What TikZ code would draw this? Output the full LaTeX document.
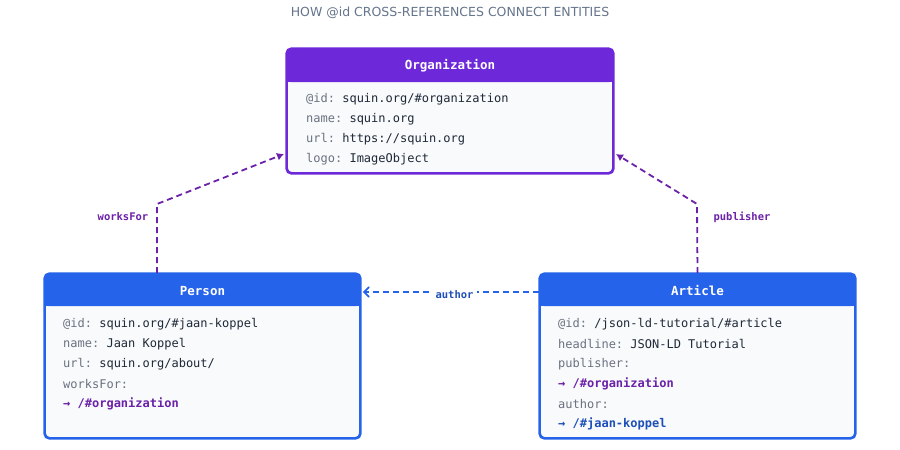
\documentclass[tikz,border=0pt]{standalone}
\usepackage{fontspec}
\setmainfont{DejaVu Sans}
\setmonofont{DejaVu Sans Mono}
\usetikzlibrary{arrows.meta,positioning}
\definecolor{orgpurple}{HTML}{6D28D9}
\definecolor{refpurple}{HTML}{6B21A8}
\definecolor{entblue}{HTML}{2563EB}
\definecolor{refblue}{HTML}{1E4FB8}
\definecolor{bodyfill}{HTML}{F8FAFC}
\definecolor{keygray}{HTML}{6B7280}
\definecolor{valdark}{HTML}{1F2937}
\definecolor{titlegray}{HTML}{64748B}
\tikzset{
    every node/.style={inner sep=0pt},
    entity/.style={draw=#1, line width=1.6pt, fill=bodyfill, rounded corners=5pt,
        minimum width=315pt, minimum height=164pt},
    row/.style={anchor=west, font=\ttfamily\fontsize{12}{14}\selectfont, text=valdark},
    head/.style={text=white, font=\ttfamily\bfseries\fontsize{12.5}{14}\selectfont},
    link/.style={draw=#1, line width=1.8pt, dash pattern=on 6pt off 4pt},
    linklabel/.style={fill=white, inner sep=4pt, font=\ttfamily\bfseries\fontsize{10.5}{12}\selectfont}
}
\newcommand{\key}[1]{\textcolor{keygray}{#1}}
\newcommand{\hdr}[3]{% node, colour, height
    \fill[#2, rounded corners=5pt] (#1.north west) rectangle ([yshift=-#3]#1.north east);
    \fill[#2] ([yshift=-12pt]#1.north west) rectangle ([yshift=-#3]#1.north east);
    \draw[#2, line width=1.6pt, rounded corners=5pt] (#1.north west) rectangle (#1.south east);
}
\begin{document}
\begin{tikzpicture}[x=1pt,y=-1pt]
    \useasboundingbox (0,0) rectangle (900,450);
    % title
    \node[text=titlegray, font=\fontsize{12.5}{14}\selectfont] (title) at (450,13)
        {HOW @id CROSS-REFERENCES CONNECT ENTITIES};

    % entity boxes
    \node[entity=orgpurple, minimum width=326pt, minimum height=124pt] (org) at (450,111) {};
    \node[entity=entblue] (person) at (202.5,356) {};
    \node[entity=entblue] (article) at (697.5,356) {};
    \hdr{org}{orgpurple}{34pt}
    \hdr{person}{entblue}{33pt}
    \hdr{article}{entblue}{33pt}
    \node[head] at (450,66) {Organization};
    \node[head] at (202.5,291) {Person};
    \node[head] at (697.5,291) {Article};

    % rows
    \node[row] at (306,99)  {\key{@id:} squin.org/\#organization};
    \node[row] at (306,119) {\key{name:} squin.org};
    \node[row] at (306,139) {\key{url:} https://squin.org};
    \node[row] at (306,159) {\key{logo:} ImageObject};

    \node[row] at (63,324) {\key{@id:} squin.org/\#jaan-koppel};
    \node[row] at (63,344) {\key{name:} Jaan Koppel};
    \node[row] at (63,364) {\key{url:} squin.org/about/};
    \node[row] at (63,384) {\key{worksFor:}};
    \node[row, text=refpurple] at (63,404) {\bfseries → /\#organization};

    \node[row] at (558,324) {\key{@id:} /json-ld-tutorial/\#article};
    \node[row] at (558,344) {\key{headline:} JSON-LD Tutorial};
    \node[row] at (558,364) {\key{publisher:}};
    \node[row, text=refpurple] at (558,384) {\bfseries → /\#organization};
    \node[row] at (558,404) {\key{author:}};
    \node[row, text=refblue] at (558,424) {\bfseries → /\#jaan-koppel};

    % references
    \coordinate (wfbend) at (157,204);
    \coordinate (pubbend) at (697,204);
    \draw[link=refpurple, -{Latex[length=7pt,width=8pt]}]
        ([xshift=-45.5pt]person.north) -- (wfbend) -- (284,154);
    \node[linklabel, text=refpurple] (worksfor) at (123,217) {worksFor};
    \draw[link=refpurple, -{Latex[length=7pt,width=8pt]}]
        (article.north) -- (pubbend) -- (616,154);
    \node[linklabel, text=refpurple] (publisher) at (742,217) {publisher};
    \draw[link=entblue, -{Straight Barb[length=5pt,width=10pt]}]
        ([yshift=64pt]article.west) -- ([yshift=64pt,xshift=2pt]person.east)
        node[linklabel, text=refblue, pos=0.48, yshift=-3pt] (authorlbl) {author};
\end{tikzpicture}
\end{document}
